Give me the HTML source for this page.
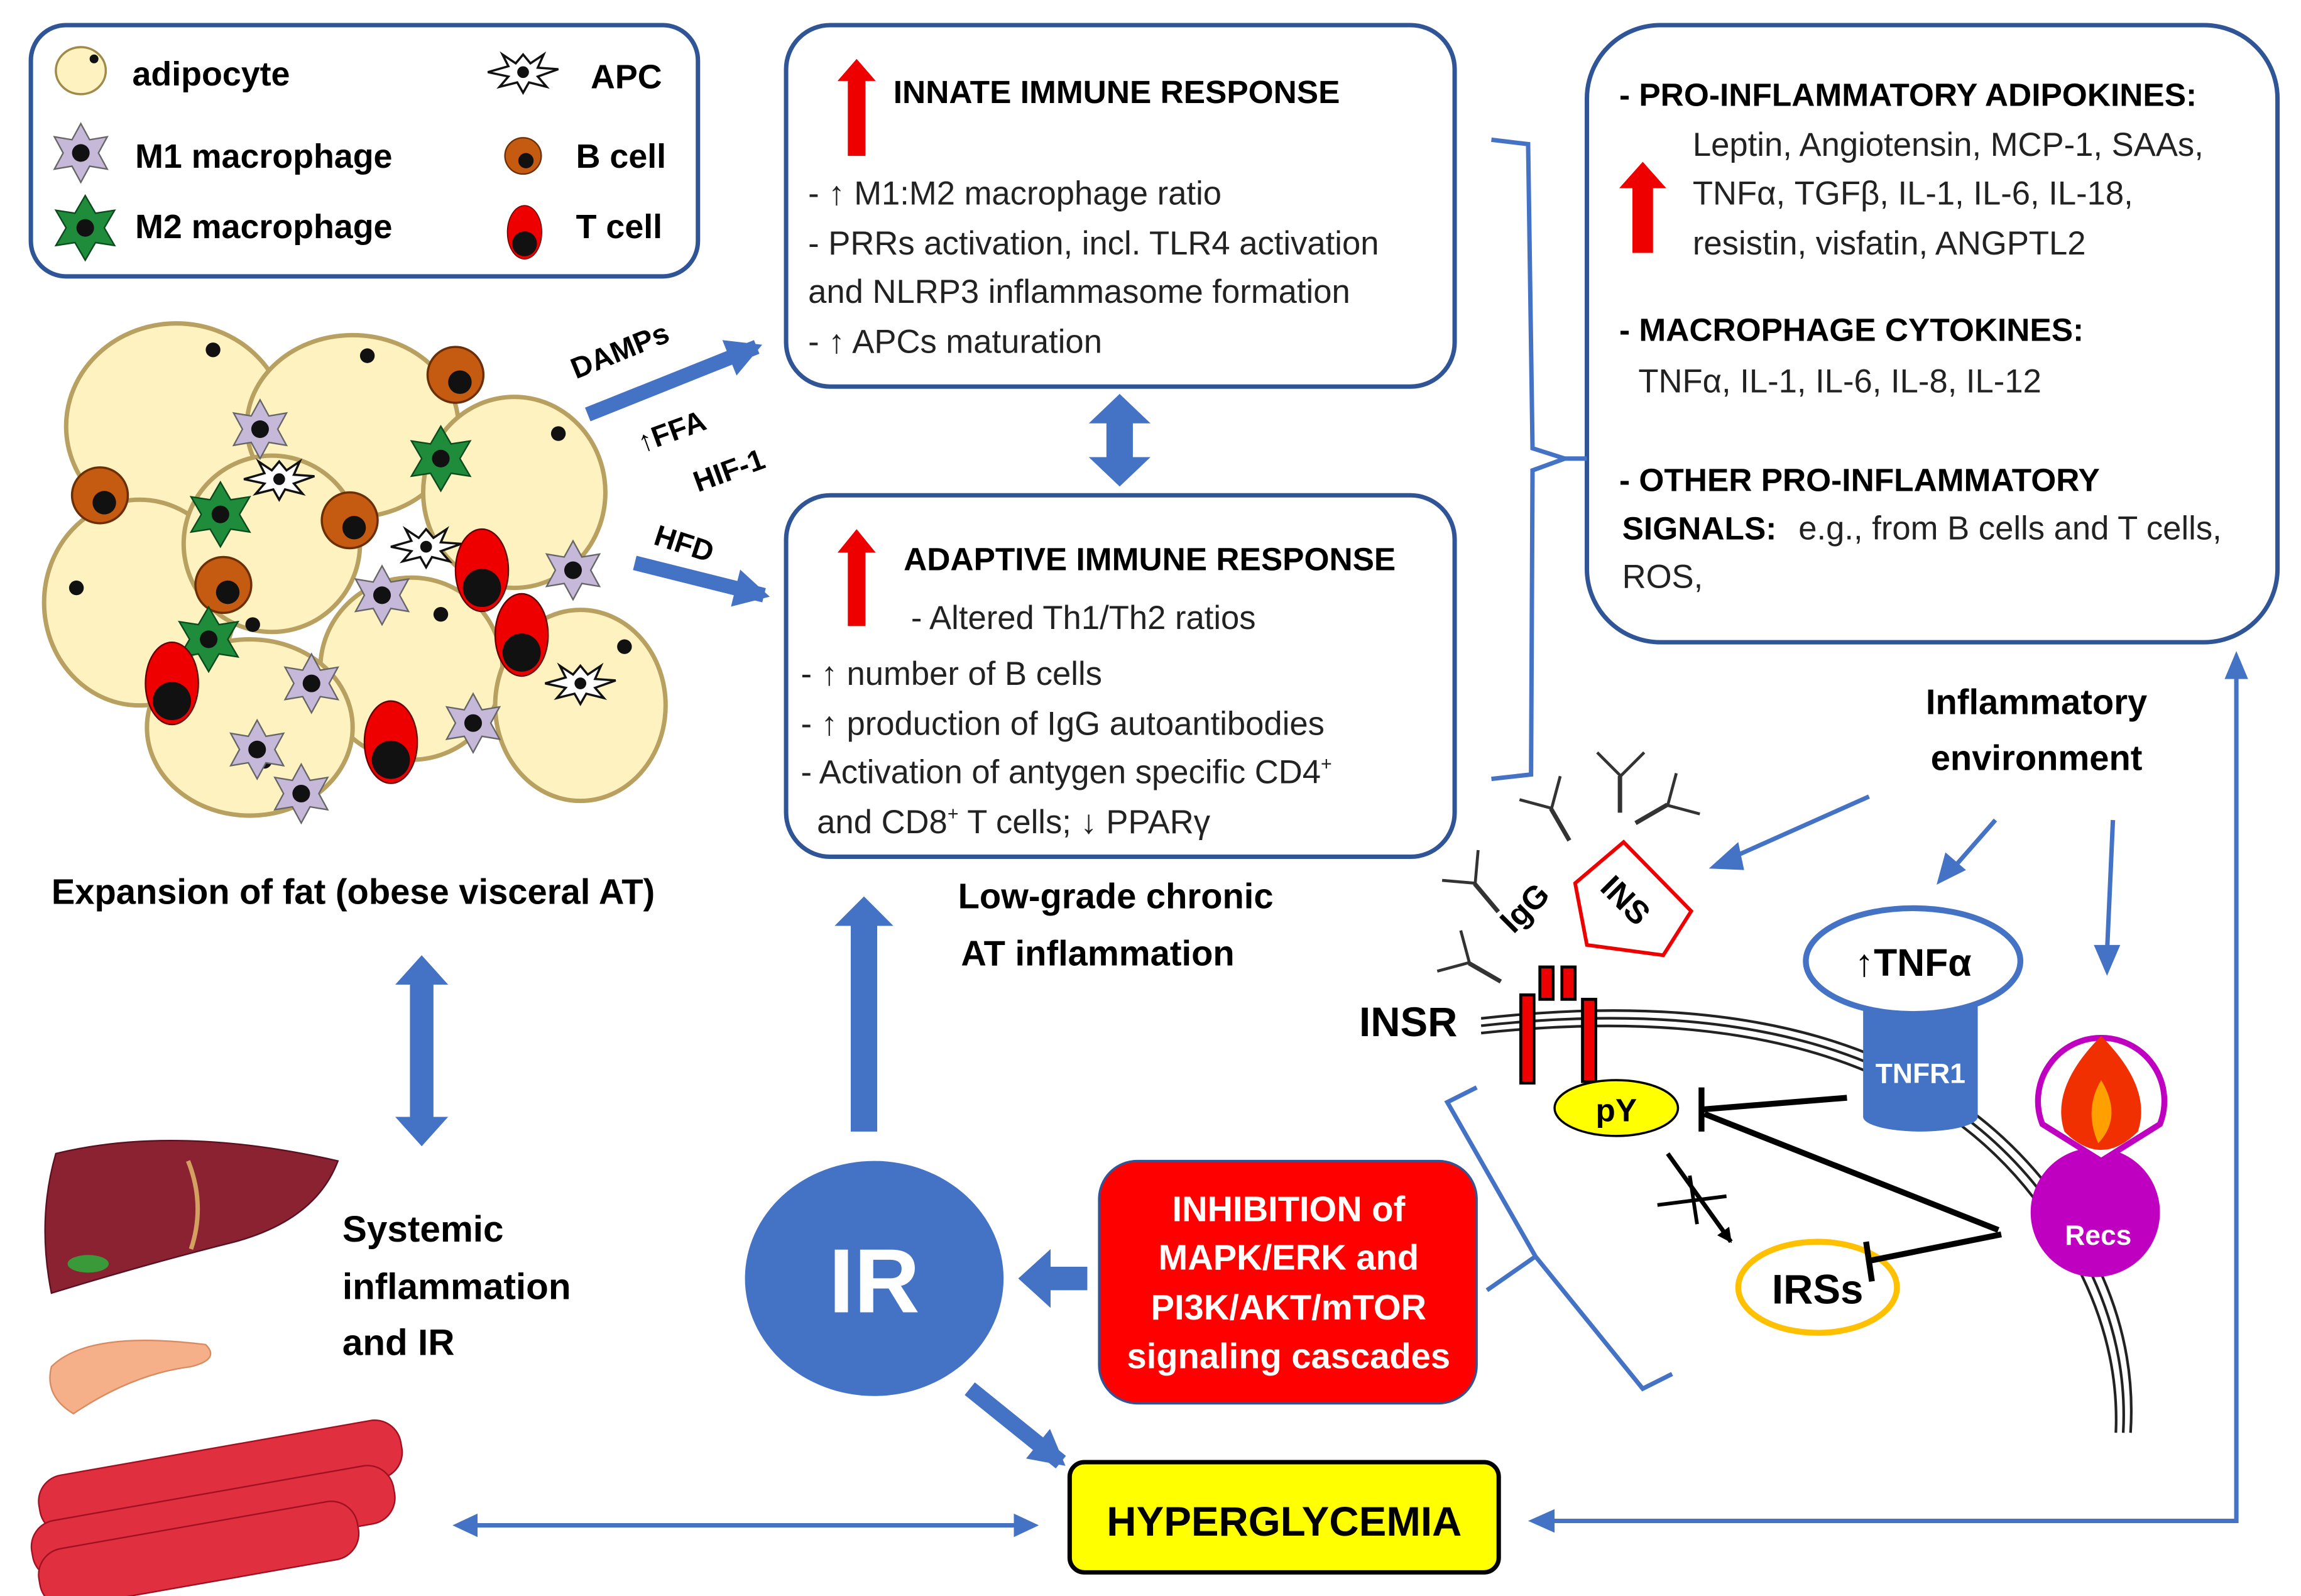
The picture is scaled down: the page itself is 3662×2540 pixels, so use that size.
<!DOCTYPE html>
<html><head><meta charset="utf-8"><style>
html,body{margin:0;padding:0;background:#fff}
svg{display:block}
text{font-family:"Liberation Sans",sans-serif}
</style></head><body>
<svg width="3662" height="2540" viewBox="0 0 1566 1086" xmlns="http://www.w3.org/2000/svg">
<defs>
<marker id="ah" markerWidth="24" markerHeight="26" refX="20" refY="13" orient="auto" markerUnits="userSpaceOnUse"><path d="M0,0 L24,13 L0,26 z" fill="#4472c4"/></marker>
<marker id="ahs" markerWidth="10" markerHeight="10" refX="9" refY="5" orient="auto" markerUnits="userSpaceOnUse"><path d="M0,0 L10,5 L0,10 z" fill="#000"/></marker>
<g id="m1"><polygon points="0,-20 6,-9 18,-11 12,0 18,11 6,9 0,20 -6,9 -18,11 -12,0 -18,-11 -6,-9" fill="#c6b8d8" stroke="#666" stroke-width="1"/><circle r="6" fill="#111"/></g>
<g id="m2"><polygon points="0,-22 7,-10 20,-12 13,0 20,12 7,10 0,22 -7,10 -20,12 -13,0 -20,-12 -7,-10" fill="#1e8c3a" stroke="#0b4a1c" stroke-width="1"/><circle r="6" fill="#111"/></g>
<g id="bc"><circle r="19" fill="#c55a11" stroke="#6b2e05" stroke-width="1.5"/><circle cx="3" cy="5" r="8" fill="#111"/></g>
<g id="tc"><ellipse rx="18" ry="28" fill="#e00" stroke="#600"/><circle cy="12" r="13" fill="#111"/></g>
<g id="apc"><polygon points="0,-12 5,-6 14,-12 10,-3 24,-2 10,3 16,10 4,7 0,14 -4,7 -16,10 -10,3 -24,0 -10,-4 -14,-12 -5,-6" fill="#fff" stroke="#111" stroke-width="1.5"/><circle r="4" fill="#111"/></g>
<g id="ab" stroke="#333" stroke-width="2" fill="none"><path d="M0,0 L0,25 M-1,0 L-1,25 M0,0 L-15,-15 M0,0 L15,-15 M-3,-3 L-16,-16 M3,-3 L16,-16"/></g>
</defs>

<!-- Legend box -->
<rect x="21" y="17" width="454" height="171" rx="24" fill="#fff" stroke="#2f5597" stroke-width="3"/>
<ellipse cx="55" cy="48" rx="17" ry="16" fill="#fdf2c0" stroke="#a08a4a" stroke-width="1.5"/><circle cx="64" cy="40" r="3" fill="#111"/>
<text x="90" y="58" font-size="23" font-weight="bold">adipocyte</text>
<use href="#m1" x="55" y="104"/><text x="92" y="114" font-size="23" font-weight="bold">M1 macrophage</text>
<use href="#m2" x="58" y="155"/><text x="92" y="162" font-size="23" font-weight="bold">M2 macrophage</text>
<use href="#apc" x="356" y="49"/><text x="402" y="60" font-size="23" font-weight="bold">APC</text>
<g transform="translate(356,106) scale(0.65)"><use href="#bc"/></g>
<text x="392" y="114" font-size="23" font-weight="bold">B cell</text>
<g transform="translate(357,158) scale(0.65)"><use href="#tc"/></g>
<text x="392" y="162" font-size="23" font-weight="bold">T cell</text>

<!-- Innate box -->
<rect x="535" y="17" width="455" height="246" rx="30" fill="#fff" stroke="#2f5597" stroke-width="3"/>
<polygon points="583,40 596,55 589,55 589,106 577,106 577,55 570,55" fill="#e00"/>
<text x="608" y="70" font-size="22" font-weight="bold">INNATE IMMUNE RESPONSE</text>
<g font-size="22.5" fill="#222">
<text x="550" y="139">- ↑ M1:M2 macrophage ratio</text>
<text x="550" y="173">- PRRs activation, incl. TLR4 activation</text>
<text x="550" y="206">and NLRP3 inflammasome  formation</text>
<text x="550" y="240">- ↑ APCs maturation</text>
</g>

<polygon points="762,268 783,288 771,288 771,311 783,311 762,331 741,311 753,311 753,288 741,288" fill="#4472c4"/>

<!-- Adaptive box -->
<rect x="535" y="337" width="455" height="246" rx="30" fill="#fff" stroke="#2f5597" stroke-width="3"/>
<polygon points="583,360 596,376 589,376 589,426 577,426 577,376 570,376" fill="#e00"/>
<text x="615" y="388" font-size="22" font-weight="bold">ADAPTIVE IMMUNE RESPONSE</text>
<g font-size="22.5" fill="#222">
<text x="620" y="428">- Altered Th1/Th2 ratios</text>
<text x="545" y="466">- ↑ number of B cells</text>
<text x="545" y="500">- ↑ production of IgG autoantibodies</text>
<text x="545" y="533">- Activation of antygen specific CD4<tspan font-size="13" dy="-9">+</tspan></text>
<text x="556" y="567">and CD8<tspan font-size="13" dy="-9">+</tspan><tspan dy="9"> T cells; ↓ PPARγ</tspan></text>
</g>

<!-- Right box -->
<rect x="1080" y="17" width="470" height="420" rx="50" fill="#fff" stroke="#2f5597" stroke-width="3"/>
<text x="1102" y="72" font-size="22" font-weight="bold">- PRO-INFLAMMATORY ADIPOKINES:</text>
<polygon points="1118,110 1134,128 1125,128 1125,172 1111,172 1111,128 1102,128" fill="#e00"/>
<g font-size="22.5" fill="#222">
<text x="1152" y="106">Leptin, Angiotensin, MCP-1, SAAs,</text>
<text x="1152" y="139">TNFα, TGFβ, IL-1, IL-6, IL-18,</text>
<text x="1152" y="173">resistin, visfatin, ANGPTL2</text>
<text x="1115" y="267">TNFα, IL-1, IL-6, IL-8, IL-12</text>
<text x="1224" y="367">e.g., from B cells and T cells,</text>
<text x="1104" y="400">ROS,</text>
</g>
<text x="1102" y="232" font-size="22" font-weight="bold">- MACROPHAGE CYTOKINES:</text>
<text x="1102" y="334" font-size="22" font-weight="bold">- OTHER PRO-INFLAMMATORY</text>
<text x="1104" y="367" font-size="22" font-weight="bold">SIGNALS:</text>

<path d="M1015,95 L1040,98 L1043,305 L1065,312 L1043,320 L1042,527 L1015,530" fill="none" stroke="#4472c4" stroke-width="3"/>
<line x1="1065" y1="312" x2="1080" y2="312" stroke="#4472c4" stroke-width="3"/>

<!-- fat cluster -->
<g fill="#fdf2c0" stroke="#b8a060" stroke-width="3">
<ellipse cx="120" cy="290" rx="75" ry="70"/>
<ellipse cx="240" cy="290" rx="72" ry="62"/>
<ellipse cx="350" cy="335" rx="62" ry="65"/>
<ellipse cx="95" cy="410" rx="65" ry="70"/>
<ellipse cx="185" cy="370" rx="60" ry="60"/>
<ellipse cx="280" cy="455" rx="62" ry="62"/>
<ellipse cx="395" cy="480" rx="58" ry="65"/>
<ellipse cx="170" cy="495" rx="70" ry="60"/>
</g>
<g fill="#111"><circle cx="145" cy="238" r="5"/><circle cx="250" cy="242" r="5"/><circle cx="380" cy="295" r="5"/><circle cx="52" cy="400" r="5"/><circle cx="172" cy="425" r="5"/><circle cx="300" cy="418" r="5"/><circle cx="425" cy="440" r="5"/><circle cx="180" cy="518" r="5"/></g>
<use href="#bc" x="310" y="255"/><use href="#bc" x="68" y="337"/><use href="#bc" x="238" y="354"/><use href="#bc" x="152" y="398"/>
<use href="#m1" x="177" y="292"/><use href="#m1" x="260" y="405"/><use href="#m1" x="390" y="388"/><use href="#m1" x="212" y="465"/><use href="#m1" x="175" y="510"/><use href="#m1" x="205" y="540"/><use href="#m1" x="322" y="492"/>
<use href="#m2" x="300" y="312"/><use href="#m2" x="150" y="350"/><use href="#m2" x="142" y="435"/>
<use href="#apc" x="190" y="326"/><use href="#apc" x="290" y="372"/><use href="#apc" x="395" y="465"/>
<use href="#tc" x="328" y="388"/><use href="#tc" x="355" y="432"/><use href="#tc" x="117" y="465"/><use href="#tc" x="266" y="505"/>

<text x="35" y="615" font-size="24" font-weight="bold">Expansion  of fat (obese visceral AT)</text>

<line x1="400" y1="282" x2="515" y2="236" stroke="#4472c4" stroke-width="10" marker-end="url(#ah)"/>
<line x1="432" y1="383" x2="520" y2="405" stroke="#4472c4" stroke-width="10" marker-end="url(#ah)"/>
<text x="392" y="258" font-size="20" font-weight="bold" transform="rotate(-22 392 258)">DAMPs</text>
<text x="437" y="308" font-size="20" font-weight="bold" transform="rotate(-20 437 308)">↑FFA</text>
<text x="475" y="335" font-size="20" font-weight="bold" transform="rotate(-20 475 335)">HIF-1</text>
<text x="444" y="370" font-size="20" font-weight="bold" transform="rotate(18 444 370)">HFD</text>

<text x="652" y="618" font-size="24" font-weight="bold">Low-grade  chronic</text>
<text x="654" y="657" font-size="24" font-weight="bold">AT inflammation</text>

<polygon points="287,650 305,670 295,670 295,760 305,760 287,780 269,760 279,760 279,670 269,670" fill="#4472c4"/>

<!-- organs -->
<path d="M38,785 Q120,765 230,790 Q215,830 160,845 Q100,860 35,880 Q25,830 38,785z" fill="#8b2232" stroke="#5a1020"/>
<path d="M128,790 Q140,820 130,850" stroke="#d4a060" stroke-width="3" fill="none"/>
<ellipse cx="60" cy="860" rx="14" ry="6" fill="#3a9a3a"/>
<path d="M35,930 Q60,905 140,915 Q150,925 130,930 Q90,935 50,962 Q30,950 35,930z" fill="#f5b08a" stroke="#d88a60"/>
<g fill="#e03040" stroke="#a01020">
<rect x="25" y="985" width="250" height="40" rx="18" transform="rotate(-10 150 1005)"/>
<rect x="20" y="1015" width="250" height="40" rx="18" transform="rotate(-10 150 1035)"/>
<rect x="25" y="1035" width="220" height="40" rx="18" transform="rotate(-10 150 1055)"/>
</g>
<text x="233" y="845" font-size="25" font-weight="bold">Systemic</text>
<text x="233" y="884" font-size="25" font-weight="bold">inflammation</text>
<text x="233" y="922" font-size="25" font-weight="bold">and IR</text>

<polygon points="588,610 608,630 597,630 597,770 579,770 579,630 568,630" fill="#4472c4"/>

<ellipse cx="595" cy="870" rx="88" ry="80" fill="#4472c4"/>
<text x="595" y="893" font-size="62" font-weight="bold" fill="#fff" text-anchor="middle">IR</text>

<rect x="748" y="790" width="257" height="165" rx="26" fill="#f00" stroke="#2f5597" stroke-width="1.5"/>
<g font-size="24" font-weight="bold" fill="#fff" text-anchor="middle">
<text x="877" y="831">INHIBITION of</text>
<text x="877" y="864">MAPK/ERK and</text>
<text x="877" y="898">PI3K/AKT/mTOR</text>
<text x="877" y="931">signaling cascades</text>
</g>
<polygon points="693,870 715,850 715,862 740,862 740,878 715,878 715,890" fill="#4472c4"/>
<line x1="660" y1="945" x2="722" y2="995" stroke="#4472c4" stroke-width="11" marker-end="url(#ah)"/>

<rect x="728" y="995" width="292" height="75" rx="10" fill="#ff0" stroke="#000" stroke-width="3"/>
<text x="874" y="1045" font-size="28" font-weight="bold" text-anchor="middle">HYPERGLYCEMIA</text>
<line x1="320" y1="1038" x2="695" y2="1038" stroke="#4472c4" stroke-width="3"/>
<polygon points="308,1038 325,1030 325,1046" fill="#4472c4"/><polygon points="707,1038 690,1030 690,1046" fill="#4472c4"/>
<polyline points="1522,458 1522,1035 1055,1035" fill="none" stroke="#4472c4" stroke-width="3"/>
<polygon points="1040,1035 1058,1027 1058,1043" fill="#4472c4"/>
<polygon points="1522,443 1514,462 1530,462" fill="#4472c4"/>

<text x="1386" y="486" font-size="24" font-weight="bold" text-anchor="middle">Inflammatory</text>
<text x="1386" y="524" font-size="24" font-weight="bold" text-anchor="middle">environment</text>
<g stroke="#4472c4" stroke-width="3" fill="none">
<line x1="1272" y1="542" x2="1180" y2="583"/><line x1="1358" y1="558" x2="1330" y2="590"/><line x1="1438" y1="558" x2="1434" y2="648"/>
</g>
<polygon points="1163,591 1183,573 1187,592" fill="#4472c4"/>
<polygon points="1318,602 1324,580 1338,592" fill="#4472c4"/>
<polygon points="1434,664 1425,643 1443,643" fill="#4472c4"/>

<g fill="none" stroke="#222" stroke-width="1.8">
<path d="M1008,693 Q1300,660 1410,830 Q1455,900 1450,975"/>
<path d="M1008,698 Q1298,666 1405,834 Q1449,902 1445,975"/>
<path d="M1008,703 Q1296,672 1400,838 Q1443,905 1440,975"/>
</g>
<text x="925" y="705" font-size="28" font-weight="bold">INSR</text>
<g fill="#e00" stroke="#000" stroke-width="2">
<rect x="1035" y="677" width="9" height="60"/><rect x="1077" y="680" width="9" height="56"/>
<rect x="1048" y="658" width="9" height="22"/><rect x="1063" y="658" width="9" height="22"/>
</g>
<ellipse cx="1100" cy="754" rx="42" ry="19" fill="#ff0" stroke="#000" stroke-width="1.5"/>
<text x="1100" y="763" font-size="22" font-weight="bold" text-anchor="middle">pY</text>
<use href="#ab" x="1004" y="601" transform="rotate(-40 1004 601)"/>
<use href="#ab" x="1056" y="550" transform="rotate(-30 1056 550)"/>
<use href="#ab" x="1103" y="528"/>
<use href="#ab" x="1135" y="548" transform="rotate(60 1135 548)"/>
<use href="#ab" x="1000" y="655" transform="rotate(-60 1000 655)"/>
<text x="1030" y="636" font-size="22" font-weight="bold" transform="rotate(-45 1030 636)">IgG</text>
<polygon points="1105,573 1151,620 1132,650 1080,643 1072,601" fill="#fff" stroke="#e00" stroke-width="2.5"/>
<text x="1088" y="605" font-size="22" font-weight="bold" transform="rotate(45 1088 605)">INS</text>
<rect x="1268" y="680" width="78" height="80" fill="#4472c4"/>
<ellipse cx="1307" cy="760" rx="39" ry="10" fill="#4472c4"/>
<text x="1307" y="737" font-size="19" font-weight="bold" fill="#fff" text-anchor="middle">TNFR1</text>
<ellipse cx="1302" cy="654" rx="73" ry="36" fill="#fff" stroke="#4472c4" stroke-width="4"/>
<text x="1302" y="664" font-size="26" font-weight="bold" text-anchor="middle">↑TNFα</text>
<circle cx="1426" cy="825" r="44" fill="#c000c0"/>
<path d="M1430,790 L1390,765 A43,43 0 1 1 1470,765 Z" fill="#fff" stroke="#c000c0" stroke-width="4"/>
<path d="M1430,705 Q1395,740 1405,770 Q1430,795 1455,770 Q1465,740 1430,705z" fill="#f03000"/>
<path d="M1430,735 Q1418,755 1428,778 Q1445,760 1430,735z" fill="#ffa000"/>
<text x="1428" y="847" font-size="19" font-weight="bold" fill="#fff" text-anchor="middle">Recs</text>
<ellipse cx="1237" cy="876" rx="54" ry="31" fill="#fff" stroke="#ffc000" stroke-width="4"/>
<text x="1237" y="887" font-size="28" font-weight="bold" text-anchor="middle">IRSs</text>
<g stroke="#000" stroke-width="4" fill="none">
<line x1="1257" y1="747" x2="1158" y2="755"/><line x1="1158" y1="740" x2="1158" y2="770"/>
<line x1="1360" y1="837" x2="1160" y2="758"/>
<line x1="1362" y1="840" x2="1272" y2="858"/><line x1="1270" y1="845" x2="1274" y2="872"/>
</g>
<line x1="1135" y1="785" x2="1178" y2="845" stroke="#000" stroke-width="3" marker-end="url(#ahs)"/>
<line x1="1128" y1="820" x2="1175" y2="814" stroke="#000" stroke-width="2.5"/>
<line x1="1150" y1="800" x2="1155" y2="833" stroke="#000" stroke-width="2.5"/>
<path d="M1005,740 L985,750 L1045,855 L1012,878 M1045,855 L1118,945 L1138,935" fill="none" stroke="#4472c4" stroke-width="3"/>
</svg>
</body></html>
